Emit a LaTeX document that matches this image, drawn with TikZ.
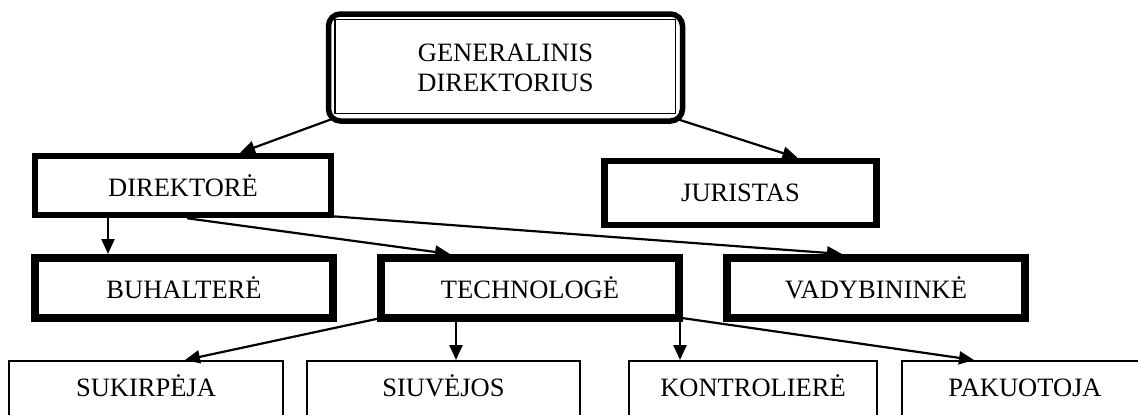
\documentclass[tikz,border=0pt]{standalone}
\usepackage{fontspec}
\setmainfont{Liberation Serif}
\usetikzlibrary{arrows.meta,calc}
\begin{document}
\begin{tikzpicture}[x=1pt,y=-1pt,
  every node/.style={font=\fontsize{26.5}{30}\selectfont, inner sep=0pt, align=center},
  midbox/.style={draw, line width=8pt, minimum width=298pt, minimum height=60pt},
  upbox/.style={draw, line width=6.5pt},
  lowbox/.style={draw, line width=2pt, anchor=north, text height=35pt, text depth=40pt},
  conn/.style={line width=2.2pt, -{Triangle[length=15pt,width=13pt]}}
]
\clip (0,0) rectangle (1138,415);
% top box
\node[draw, line width=5.5pt, rounded corners=12pt, minimum width=354pt, minimum height=107pt] (gen) at (505.5,67.5)
  {GENERALINIS\\DIREKTORIUS};
\draw[line width=1.6pt] (335,19.5) rectangle (675.5,113.5);
% second level
\node[upbox, minimum width=296pt, minimum height=59pt] (dir) at (183,185.5) {DIREKTORĖ};
\node[upbox, minimum width=272pt, minimum height=64pt] (jur) at (740.5,193) {JURISTAS};
% third level
\node[midbox] (buh) at (184,288) {BUHALTERĖ};
\node[midbox] (tech) at (530,288) {TECHNOLOGĖ};
\node[midbox] (vad) at (876,288) {VADYBININKĖ};
% bottom level
\node[lowbox, minimum width=274pt] (suk) at (146,360) {SUKIRPĖJA};
\node[lowbox, minimum width=273pt] (siu) at (443.5,360) {SIUVĖJOS};
\node[lowbox, minimum width=248pt] (kon) at (753,360) {KONTROLIERĖ};
\node[lowbox, minimum width=246pt] (pak) at (1025,360) {PAKUOTOJA};
% connectors
\draw[conn] ([xshift=7pt,yshift=5pt]gen.south west) -- ([xshift=57pt]dir.north);
\draw[conn] ([xshift=-6pt,yshift=4pt]gen.south east) -- ([xshift=57pt]jur.north);
\coordinate (d1) at ([xshift=-75pt]dir.south);
\draw[conn] (d1) -- (d1 |- buh.north);
\draw[conn] ([xshift=4pt]dir.south) -- ([xshift=-80pt]tech.north);
\draw[conn] ([xshift=-2pt,yshift=2pt]dir.south east) -- ([xshift=-34pt]vad.north);
\draw[conn] ([xshift=4pt,yshift=4pt]tech.south west) -- ([xshift=39pt]suk.north);
\coordinate (t1) at ([xshift=-74pt]tech.south);
\draw[conn] (t1) -- (t1 |- siu.north);
\coordinate (t2) at ([xshift=-3pt]tech.south east);
\draw[conn] (t2) -- (t2 |- kon.north);
\draw[conn] ([xshift=-1pt,yshift=4pt]tech.south east) -- ([xshift=-51pt]pak.north);
\end{tikzpicture}
\end{document}
